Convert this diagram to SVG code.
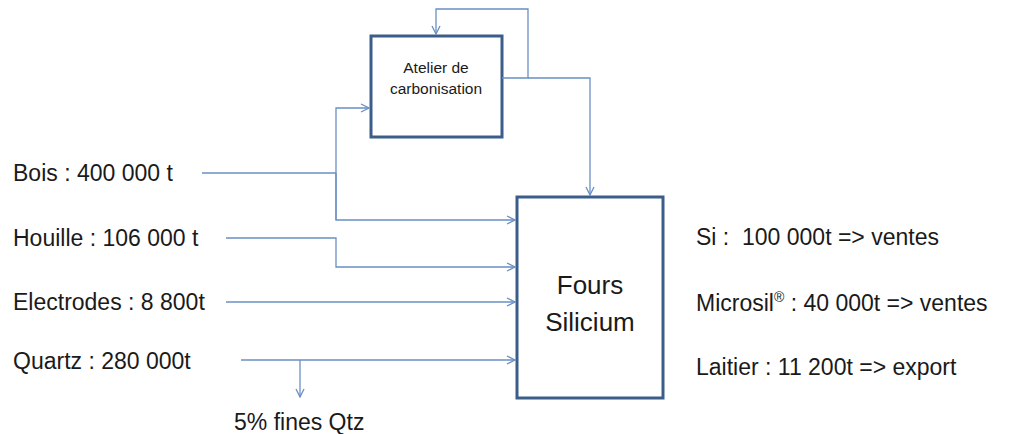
<svg xmlns="http://www.w3.org/2000/svg" width="1011" height="434" viewBox="0 0 1011 434">
<style>
.box{fill:#fff;stroke:#3b5d8a;stroke-width:3}
.ln{fill:none;stroke:#6a8fc4;stroke-width:1.3}
.t{font-family:"Liberation Sans",Arial,sans-serif;font-size:23px;fill:#1a1a1a}
.s{font-family:"Liberation Sans",Arial,sans-serif;font-size:15.5px;fill:#1a1a1a}
.b{font-family:"Liberation Sans",Arial,sans-serif;font-size:26px;fill:#1a1a1a}
</style>
<defs>
<marker id="ah" markerWidth="10" markerHeight="10" refX="9" refY="5" orient="auto" markerUnits="userSpaceOnUse">
<path d="M1,1 L9,5 L1,9" fill="none" stroke="#6a8fc4" stroke-width="1.3"/>
</marker>
</defs>
<rect width="1011" height="434" fill="#fff"/>
<g id="atelier">
<rect class="box" x="371" y="36" width="131" height="101"/>
<text class="s" x="436" y="73" text-anchor="middle">Atelier de</text>
<text class="s" x="436" y="94" text-anchor="middle">carbonisation</text>
</g>
<g id="fours">
<rect class="box" x="517" y="197" width="146" height="201"/>
<text class="b" x="590" y="294" text-anchor="middle">Fours</text>
<text class="b" x="590" y="331" text-anchor="middle">Silicium</text>
</g>
<g id="inputs">
<text class="t" x="13" y="181">Bois : 400 000 t</text>
<text class="t" x="13" y="246">Houille : 106 000 t</text>
<text class="t" x="13" y="310">Electrodes : 8 800t</text>
<text class="t" x="13" y="369">Quartz : 280 000t</text>
<text class="t" x="234" y="430">5% fines Qtz</text>
</g>
<g id="outputs">
<text class="t" x="696" y="245" xml:space="preserve">Si :  100 000t =&gt; ventes</text>
<text class="t" x="696" y="311">Microsil<tspan font-size="14" dy="-9">®</tspan><tspan dy="9"> : 40 000t =&gt; ventes</tspan></text>
<text class="t" x="696" y="375">Laitier : 11 200t =&gt; export</text>
</g>
<g id="connectors">
<path class="ln" d="M202,173 H336"/>
<path class="ln" d="M336,220 V108 H369" marker-end="url(#ah)"/>
<path class="ln" d="M336,173 V220 H515" marker-end="url(#ah)"/>
<path class="ln" d="M226,238 H336 V267 H515" marker-end="url(#ah)"/>
<path class="ln" d="M226,302 H515" marker-end="url(#ah)"/>
<path class="ln" d="M241,360 H515" marker-end="url(#ah)"/>
<path class="ln" d="M300,360 V397" marker-end="url(#ah)"/>
<path class="ln" d="M502,78 H528 V9 H436 V34" marker-end="url(#ah)"/>
<path class="ln" d="M528,78 H590 V195" marker-end="url(#ah)"/>
</g>
</svg>
